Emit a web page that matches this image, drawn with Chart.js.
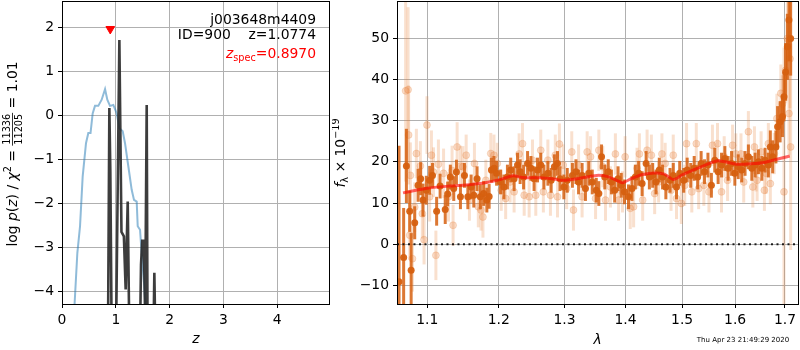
<!DOCTYPE html>
<html>
<head>
<meta charset="utf-8">
<script src="https://cdn.jsdelivr.net/npm/chart.js@4.4.1/dist/chart.umd.min.js"></script>
<style>
  html, body { margin: 0; padding: 0; background: #fff; }
  #wrap { position: relative; width: 800px; height: 350px; }
  canvas { position: absolute; top: 0; }
  #pzChart { left: 0; width: 332px; height: 350px; }
  #specChart { left: 332px; width: 468px; height: 350px; }
</style>
</head>
<body>
<div id="wrap">
  <canvas id="pzChart" width="332" height="350"></canvas>
  <canvas id="specChart" width="468" height="350"></canvas>
</div>
<script>
// left panel: log p(z)
const zBlue = [0.22, 0.285, 0.335, 0.384, 0.446, 0.489, 0.53, 0.57, 0.613, 0.675, 0.737, 0.80, 0.842, 0.892, 0.954, 1.016, 1.066, 1.128, 1.171, 1.233, 1.295, 1.338, 1.388, 1.407, 1.45, 1.48, 1.524, 1.561];
const logpBlue = [-4.6, -3.13, -2.52, -1.39, -0.63, -0.40, -0.40, 0.05, 0.22, 0.22, 0.36, 0.60, 0.36, 0.22, 0.24, 0.05, -0.29, -0.36, -0.63, -1.16, -1.69, -1.92, -1.96, -2.52, -2.6, -3.13, -3.81, -4.5];
const zBlack = [0.80, 0.855, 0.880, 0.898, 0.923, 1.004, 1.066, 1.105, 1.150, 1.183, 1.221, 1.251, 1.450, 1.468, 1.49, 1.52, 1.545, 1.574, 1.59, 1.70, 1.716, 1.735, 1.80];
const logpBlack = [-8, -5, 0.17, -1.27, -5, -5, 1.72, -2.65, -2.75, -3.96, -1.96, -5, -5, -3.4, -2.85, -2.85, -4.6, 0.24, -5, -5, -3.58, -5, -8];
const zSpec = 0.897;
const zSpecMark = 1.97;
const zTicks = [0, 1, 2, 3, 4];
const logpTicks = [-4, -3, -2, -1, 0, 1, 2];

// right panel: spectrum
const lamDark = [
  1.0628, 1.0688, 1.0724, 1.0767, 1.0786, 1.0833, 1.0878, 1.0912, 1.0943, 1.0987,
  1.1032, 1.1070, 1.1126, 1.1173, 1.1243, 1.1276, 1.1313, 1.1360, 1.1397, 1.1453,
  1.1509, 1.1557, 1.1603, 1.1641, 1.1687, 1.1734, 1.1781, 1.1827, 1.1860, 1.1893,
  1.1930, 1.1968, 1.2026, 1.2075, 1.2127, 1.2176, 1.2226, 1.2277, 1.2316, 1.2368,
  1.2428, 1.2478, 1.2527, 1.2579, 1.2629, 1.2678, 1.2739, 1.2790, 1.2840, 1.2889,
  1.2929, 1.2989, 1.3043, 1.3125, 1.3182, 1.3224, 1.3281, 1.3335, 1.3389, 1.3446,
  1.3512, 1.3554, 1.3599, 1.3653, 1.3710, 1.3764, 1.3818, 1.3875, 1.3929, 1.3984,
  1.4052, 1.4112, 1.4170, 1.4227, 1.4287, 1.4357, 1.4414, 1.4472, 1.4531, 1.4589,
  1.4647, 1.4706, 1.4781, 1.4839, 1.4898, 1.4956, 1.5029, 1.5093, 1.5158, 1.5222,
  1.5286, 1.5351, 1.5415, 1.5479, 1.5544, 1.5608, 1.5672, 1.5737, 1.5801, 1.5864,
  1.5930, 1.5994, 1.6060, 1.6128, 1.6194, 1.6260, 1.6328, 1.6394, 1.6460, 1.6528,
  1.6594, 1.6660, 1.6700, 1.6748, 1.6814, 1.6848, 1.6900, 1.6948, 1.6980, 1.7015,
  1.7050, 1.7083, 1.7118
];
const fluxDark = [
  -9.1, -3.2, 19.0, 8.0, -6.3, 5.2, 14.3, 15.9, 10.7, 13.1,
  15.5, 16.7, 8.0, 14.1, 8.4, 12.2, 16.3, 13.5, 17.5, 11.5,
  16.7, 11.5, 13.9, 11.9, 15.9, 11.5, 12.3, 10.7, 11.6, 18.0,
  18.4, 17.2, 15.1, 13.9, 16.3, 18.0, 15.9, 19.2, 17.6, 16.3,
  19.6, 18.4, 15.9, 18.0, 19.2, 16.3, 17.2, 15.5, 18.8, 19.6,
  15.9, 13.9, 15.5, 16.7, 17.6, 15.1, 16.7, 13.5, 17.2, 15.1,
  13.1, 12.3, 21.2, 16.3, 17.6, 15.1, 13.1, 15.9, 14.3, 12.7,
  11.5, 13.5, 16.3, 17.2, 14.7, 19.6, 16.3, 16.7, 15.1, 18.0,
  16.3, 13.9, 15.5, 16.7, 13.9, 17.2, 15.5, 18.0, 16.7, 18.4,
  16.3, 19.6, 17.6, 19.2, 14.3, 20.4, 17.6, 19.2, 20.8, 18.4,
  19.6, 17.2, 18.8, 18.0, 19.6, 21.2, 18.4, 19.2, 20.0, 18.4,
  20.4, 19.2, 23.6, 21.2, 23.6, 28.5, 29.7, 31.0, 35.8, 41.8,
  47.9, 54.4, 49.9
];
const errDark = [
  33, 12, 9, 5, 9, 4, 4, 4, 4, 3.5,
  3.5, 3, 3.5, 3, 3.5, 3, 3, 3, 3, 3,
  3, 3, 3, 3, 3, 3, 3, 3, 3, 3,
  3, 3, 3, 3, 3, 3, 3, 3, 3, 3,
  3, 3, 3, 3, 3, 3, 3, 3, 3, 3,
  3, 3, 3, 3, 3, 3, 3, 3, 3, 3,
  3, 3, 3, 3, 3, 3, 3, 3, 3, 3,
  3, 3, 3, 3, 3, 3, 3, 3, 3, 3,
  3, 3, 3, 3, 3, 3, 3, 3, 3, 3,
  3, 3, 3, 3, 3, 3, 3, 3, 3, 3,
  3, 3, 3, 3, 3, 3, 3, 3, 3, 3,
  3, 3, 4, 4, 4, 5, 5, 5, 6, 7,
  8, 10, 9
];
const lamLight = [
  1.0714, 1.0746, 1.0753, 1.0767, 1.0776, 1.0803, 1.0833, 1.0855, 1.0908, 1.0934,
  1.0957, 1.0996, 1.1032, 1.1056, 1.1084, 1.1116, 1.1150, 1.1220, 1.1288, 1.1337,
  1.1351, 1.1407, 1.1453, 1.1487, 1.1533, 1.1579, 1.1650, 1.1705, 1.1743, 1.1771,
  1.1813, 1.1884, 1.1930, 1.1978, 1.2036, 1.2101, 1.2166, 1.2226, 1.2301, 1.2352,
  1.2377, 1.2452, 1.2503, 1.2553, 1.2629, 1.2669, 1.2739, 1.2779, 1.2855, 1.2889,
  1.2919, 1.2979, 1.3033, 1.3115, 1.3142, 1.3224, 1.3281, 1.3363, 1.3418, 1.3500,
  1.3554, 1.3620, 1.3665, 1.3747, 1.3830, 1.3884, 1.3950, 1.3995, 1.4082, 1.4140,
  1.4199, 1.4240, 1.4297, 1.4374, 1.4449, 1.4507, 1.4577, 1.4636, 1.4694, 1.4799,
  1.4839, 1.4898, 1.4986, 1.5048, 1.5081, 1.5178, 1.5261, 1.5305, 1.5402, 1.5498,
  1.5564, 1.5660, 1.5737, 1.5788, 1.5853, 1.5950, 1.6014, 1.6114, 1.6168, 1.6260,
  1.6348, 1.6380, 1.6414, 1.6434, 1.6514, 1.6580, 1.6614, 1.6660, 1.6700, 1.6780,
  1.6834, 1.6915, 1.6948, 1.6980, 1.7015, 1.7050, 1.7083, 1.7104, 1.7118
];
const fluxLight = [
  37.2, 37.5, 26.5, 2.2, 16.7, -3.5, 9.0, 22.0, 19.0, 7.4,
  1.1, 28.9, 11.5, 21.6, 17.5, -2.7, 19.4, 17.2, 11.5, 17.9,
  4.6, 23.6, 18.9, 18.8, 21.6, 10.7, 19.6, 9.1, 8.3, 6.6,
  15.5, 22.0, 21.6, 19.6, 13.1, 11.1, 15.1, 12.7, 21.9, 24.4,
  11.9, 11.5, 20.4, 11.9, 22.8, 12.7, 20.4, 11.9, 21.6, 11.5,
  24.3, 19.2, 13.5, 22.4, 8.3, 19.2, 11.5, 22.4, 21.2, 11.1,
  22.8, 18.8, 10.7, 13.9, 21.9, 10.7, 12.7, 21.2, 8.7, 9.1,
  18.4, 21.9, 10.7, 22.8, 21.6, 12.3, 15.1, 21.9, 19.6, 13.1,
  21.6, 11.1, 9.9, 14.3, 24.4, 12.7, 24.4, 13.5, 14.3, 12.7,
  24.0, 24.4, 12.7, 21.2, 15.5, 24.0, 21.9, 21.9, 15.1, 27.3,
  13.9, 23.6, 17.8, 15.5, 22.4, 13.1, 17.2, 24.4, 14.7, 22.0,
  30.5, 36.6, 34.0, 12.7, 42.2, 49.9, 31.7, 45.0, 23.6
];
const errLight = [
  22, 20, 12, 6, 8, 8, 6, 6, 6, 6,
  6, 7, 6, 6, 6, 6, 6, 6, 6, 6,
  5, 6, 5, 5, 5, 5, 5, 5, 5, 5,
  5, 5, 5, 5, 5, 5, 5, 5, 5, 5,
  5, 5, 5, 5, 5, 5, 5, 5, 5, 5,
  5, 5, 5, 5, 5, 5, 5, 5, 5, 5,
  5, 5, 5, 5, 5, 5, 5, 5, 5, 5,
  5, 5, 5, 5, 5, 5, 5, 5, 5, 5,
  5, 5, 5, 5, 5, 5, 5, 5, 5, 5,
  5, 5, 5, 5, 5, 5, 5, 5, 5, 5,
  5, 5, 5, 5, 5, 5, 5, 5, 5, 5,
  6, 7, 7, 35, 8, 10, 10, 12, 25
];
const lamModel = [1.068, 1.08, 1.10, 1.13, 1.16, 1.18, 1.20, 1.221, 1.235, 1.26, 1.28, 1.298, 1.32, 1.352, 1.37, 1.385, 1.395, 1.41, 1.43, 1.45, 1.468, 1.484, 1.50, 1.53, 1.564, 1.58, 1.602, 1.63, 1.66, 1.71];
const fluxModel = [12.45, 12.9, 13.6, 14.1, 14.5, 14.9, 15.6, 16.6, 16.2, 16.1, 15.9, 15.5, 15.9, 16.7, 16.4, 15.5, 14.9, 15.9, 16.9, 17.3, 17.0, 15.7, 16.8, 18.5, 20.2, 20.0, 19.4, 19.5, 19.9, 21.4];
const lamTicks = [1.1, 1.2, 1.3, 1.4, 1.5, 1.6, 1.7];
const fluxTicks = [-10, 0, 10, 20, 30, 40, 50];

const FONT = "'DejaVu Sans', sans-serif";

function minus(v) {
  return v < 0 ? "\u2212" + Math.abs(v) : String(v);
}

function pts(xs, ys) {
  return xs.map((x, i) => ({ x: x, y: ys[i] }));
}

function drawRuns(ctx, runs, x, y, align) {
  let total = 0;
  runs.forEach((r) => {
    ctx.font = (r.italic ? "italic " : "") + r.size + "px " + FONT;
    r.w = ctx.measureText(r.t).width;
    total += r.w;
  });
  let cx = align === "right" ? x - total : align === "center" ? x - total / 2 : x;
  runs.forEach((r) => {
    ctx.font = (r.italic ? "italic " : "") + r.size + "px " + FONT;
    ctx.fillText(r.t, cx, y + (r.dy || 0));
    cx += r.w;
  });
  return total;
}

function scale(type, min, max, ticks, fmt, fitKey, fitVal) {
  return {
    type: type,
    min: min,
    max: max,
    afterBuildTicks: (s) => { s.ticks = ticks.map((v) => ({ value: v })); },
    afterFit: (s) => {
      s[fitKey] = fitVal;
      s.paddingTop = 0;
      s.paddingBottom = 0;
      s.paddingLeft = 0;
      s.paddingRight = 0;
    },
    grid: { color: "#b0b0b0", lineWidth: 1, tickColor: "#000", tickLength: 4 },
    border: { display: false },
    ticks: {
      color: "#000",
      font: { family: FONT, size: 13.9 },
      padding: 4,
      maxRotation: 0,
      autoSkip: false,
      callback: fmt
    }
  };
}

const frame = {
  id: "frame",
  afterDraw(chart) {
    const { ctx, chartArea: a } = chart;
    ctx.save();
    ctx.strokeStyle = "#000";
    ctx.lineWidth = 1;
    ctx.strokeRect(Math.round(a.left) + 0.5, Math.round(a.top) + 0.5, Math.round(a.right - a.left) - 1, Math.round(a.bottom - a.top));
    ctx.restore();
  }
};

const errorBars = {
  id: "errorBars",
  beforeDatasetDraw(chart, args) {
    const ds = chart.data.datasets[args.index];
    if (!ds.errors) {
      return;
    }
    const { ctx, chartArea: a, scales } = chart;
    ctx.save();
    ctx.beginPath();
    ctx.rect(a.left, a.top, a.right - a.left, a.bottom - a.top);
    ctx.clip();
    ctx.strokeStyle = ds.errorColor;
    ctx.lineWidth = ds.errorWidth;
    ds.data.forEach((p, i) => {
      const px = scales.x.getPixelForValue(p.x);
      ctx.beginPath();
      ctx.moveTo(px, scales.y.getPixelForValue(p.y - ds.errors[i]));
      ctx.lineTo(px, scales.y.getPixelForValue(p.y + ds.errors[i]));
      ctx.stroke();
    });
    ctx.restore();
  }
};

const pzLabels = {
  id: "pzLabels",
  afterDraw(chart) {
    const ctx = chart.ctx;
    ctx.save();
    ctx.fillStyle = "#000";
    ctx.textBaseline = "alphabetic";
    ctx.font = "13.9px " + FONT;
    ctx.textAlign = "right";
    ctx.fillText("j003648m4409", 316, 24);
    ctx.fillText("ID=900    z=1.0774", 316, 39);
    ctx.textAlign = "left";
    ctx.fillStyle = "#ff0000";
    drawRuns(ctx, [
      { t: "z", size: 13.9, italic: true },
      { t: "spec", size: 9.7, dy: 2.5 },
      { t: "=0.8970", size: 13.9 }
    ], 316, 58, "right");

    // x title
    ctx.fillStyle = "#000";
    drawRuns(ctx, [{ t: "z", size: 13.9, italic: true }], 196, 343, "center");

    // y title with fraction
    ctx.translate(12, 154);
    ctx.rotate(-Math.PI / 2);
    const part1 = [
      { t: "log ", size: 13.9 },
      { t: "p", size: 13.9, italic: true },
      { t: "(", size: 13.9 },
      { t: "z", size: 13.9, italic: true },
      { t: ") / ", size: 13.9 },
      { t: "\u03c7", size: 13.9, italic: true },
      { t: "2", size: 9.7, dy: -6 },
      { t: " = ", size: 13.9 }
    ];
    const part2 = [{ t: " = 1.01", size: 13.9 }];
    ctx.font = "9.7px " + FONT;
    const fw = Math.max(ctx.measureText("11336").width, ctx.measureText("11205").width) + 2;
    let w1 = 0;
    let w2 = 0;
    part1.forEach((r) => { ctx.font = (r.italic ? "italic " : "") + r.size + "px " + FONT; w1 += ctx.measureText(r.t).width; });
    part2.forEach((r) => { ctx.font = r.size + "px " + FONT; w2 += ctx.measureText(r.t).width; });
    const start = -(w1 + fw + w2) / 2;
    const base = 5;
    drawRuns(ctx, part1, start, base, "left");
    ctx.font = "9.7px " + FONT;
    ctx.textAlign = "center";
    ctx.fillText("11336", start + w1 + fw / 2, base - 7);
    ctx.fillText("11205", start + w1 + fw / 2, base + 5);
    ctx.fillRect(start + w1, base - 5, fw, 0.8);
    ctx.textAlign = "left";
    drawRuns(ctx, part2, start + w1 + fw, base, "left");
    ctx.restore();
  }
};

const specLabels = {
  id: "specLabels",
  afterDraw(chart) {
    const ctx = chart.ctx;
    ctx.save();
    ctx.fillStyle = "#000";
    drawRuns(ctx, [{ t: "\u03bb", size: 13.9, italic: true }], 265.5, 344, "center");
    ctx.font = "7px " + FONT;
    ctx.textAlign = "center";
    ctx.fillText("Thu Apr 23 21:49:29 2020", 411, 342);
    ctx.textAlign = "left";
    ctx.translate(8, 153);
    ctx.rotate(-Math.PI / 2);
    drawRuns(ctx, [
      { t: "f", size: 13.9, italic: true },
      { t: "\u03bb", size: 9.7, dy: 3 },
      { t: " \u00d7 10", size: 13.9 },
      { t: "\u221219", size: 9.7, dy: -6 }
    ], 0, 5, "center");
    ctx.restore();
  }
};

new Chart(document.getElementById("pzChart"), {
  type: "scatter",
  data: {
    datasets: [
      {
        data: [{ x: zSpec, y: zSpecMark }],
        pointStyle: "triangle",
        rotation: 180,
        radius: 5,
        backgroundColor: "#ff0000",
        borderColor: "#ff0000",
        borderWidth: 1,
        clip: 0,
        order: 0
      },
      {
        data: pts(zBlack, logpBlack),
        showLine: true,
        borderColor: "rgba(40,40,40,0.9)",
        borderWidth: 2.6,
        pointRadius: 0,
        clip: 0,
        order: 1
      },
      {
        data: pts(zBlue, logpBlue),
        showLine: true,
        borderColor: "rgba(31,119,180,0.5)",
        borderWidth: 2,
        pointRadius: 0,
        clip: 0,
        order: 2
      }
    ]
  },
  options: {
    responsive: false,
    animation: false,
    devicePixelRatio: 1,
    layout: { autoPadding: false, padding: { top: 1, right: 2, left: 0, bottom: 0 } },
    plugins: { legend: { display: false }, tooltip: { enabled: false } },
    scales: {
      x: scale("linear", 0, 4.98, zTicks, (v) => minus(v), "height", 46),
      y: scale("linear", -4.29, 2.607, logpTicks, (v) => minus(v), "width", 62)
    }
  },
  plugins: [errorBars, frame, pzLabels]
});

new Chart(document.getElementById("specChart"), {
  type: "scatter",
  data: {
    datasets: [
      {
        data: [{ x: 1.0602, y: 0 }, { x: 1.7293, y: 0 }],
        showLine: true,
        borderColor: "rgba(0,0,0,0.85)",
        borderWidth: 2,
        borderDash: [2, 3.5],
        pointRadius: 0,
        clip: 0,
        order: 0
      },
      {
        data: pts(lamModel, fluxModel),
        showLine: true,
        borderColor: "rgba(255,0,0,0.6)",
        borderWidth: 3,
        tension: 0.25,
        pointRadius: 0,
        clip: 0,
        order: 1
      },
      {
        data: pts(lamDark, fluxDark),
        errors: errDark,
        errorColor: "rgba(214,96,16,0.85)",
        errorWidth: 3,
        pointRadius: 3.5,
        backgroundColor: "rgba(214,96,16,0.95)",
        borderColor: "rgba(214,96,16,0.95)",
        borderWidth: 0,
        clip: 0,
        order: 2
      },
      {
        data: pts(lamLight, fluxLight),
        errors: errLight,
        errorColor: "rgba(232,130,60,0.25)",
        errorWidth: 3,
        pointRadius: 3.5,
        backgroundColor: "rgba(232,130,60,0.28)",
        borderColor: "rgba(225,120,45,0.2)",
        borderWidth: 1,
        clip: 0,
        order: 3
      }
    ]
  },
  options: {
    responsive: false,
    animation: false,
    devicePixelRatio: 1,
    layout: { autoPadding: false, padding: { top: 1, right: 1, left: 0, bottom: 0 } },
    plugins: { legend: { display: false }, tooltip: { enabled: false } },
    scales: {
      x: scale("logarithmic", 1.0602, 1.7293, lamTicks, (v) => Number(v).toFixed(1), "height", 46),
      y: scale("linear", -14.5, 59, fluxTicks, (v) => minus(v), "width", 65)
    }
  },
  plugins: [errorBars, frame, specLabels]
});
</script>
</body>
</html>
